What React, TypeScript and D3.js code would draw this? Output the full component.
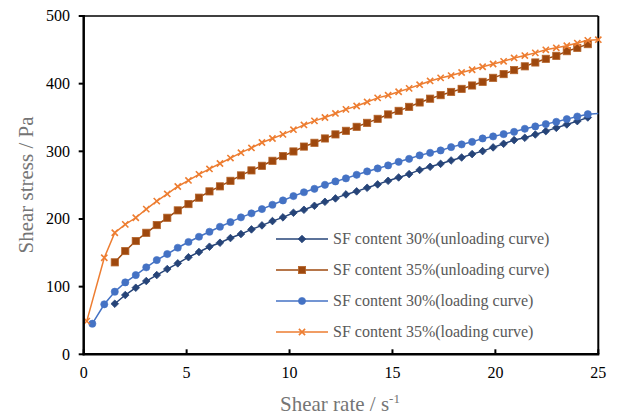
import React from "react";
import * as d3 from "d3";

const rate = [0.15, 0.42, 1.00, 1.51, 2.02, 2.53, 3.04, 3.55, 4.06, 4.57, 5.09, 5.60, 6.11, 6.62, 7.13, 7.64, 8.15, 8.66, 9.17, 9.68, 10.19, 10.70, 11.21, 11.72, 12.23, 12.74, 13.26, 13.77, 14.28, 14.79, 15.30, 15.81, 16.32, 16.83, 17.34, 17.85, 18.36, 18.87, 19.38, 19.89, 20.40, 20.91, 21.43, 21.94, 22.45, 22.96, 23.47, 23.98, 24.49, 25.00];

const unload30: (number | null)[] = [null, null, null, 74.7, 87.6, 98.4, 108.3, 117.1, 126, 134.4, 143.5, 151.2, 159, 164.9, 171.8, 177.7, 184.6, 190.5, 196.9, 202.4, 209.2, 213.6, 219.5, 225.4, 230.4, 236.3, 240.8, 246.1, 251.1, 256.4, 261.4, 266.3, 272.5, 277.1, 281.5, 286.5, 290.9, 295.9, 300.3, 305.8, 311.1, 316.6, 320, 324.9, 329.8, 334.7, 339.7, 344.6, 350, null];

const unload35: (number | null)[] = [null, null, null, 135.9, 152.6, 167.4, 179.6, 191, 201.8, 212.7, 222, 231.5, 240.8, 248.2, 256.4, 264.4, 271.8, 278.6, 286, 292.9, 299.8, 307, 312.6, 319, 325, 330.3, 336.2, 342.1, 348, 354.5, 359.8, 365.7, 372.2, 377.8, 383, 387.8, 392.3, 397.3, 402.7, 408.6, 414.1, 420, 425.6, 431.3, 436.7, 441.1, 448, 452.9, 458.4, null];

const load30: (number | null)[] = [null, 45.2, 73.9, 92.5, 106.3, 117.1, 128.5, 139.3, 148.2, 157.5, 166, 173.7, 181.1, 188.5, 195.4, 202.4, 208.3, 214.6, 221, 227.4, 233.8, 239.5, 244.6, 250.5, 255.5, 260, 265.3, 270.3, 274.7, 279.2, 284.5, 288.9, 294, 297.8, 301.3, 306.2, 310.2, 314, 319, 322, 325.4, 328.8, 333.3, 336.8, 340.2, 343.6, 347.6, 351.5, 354.9, 356];

const load35: (number | null)[] = [49, null, 142.7, 179.6, 192, 201.8, 214.6, 226.4, 237, 248, 257, 266, 274, 282, 290, 298, 305, 313, 319, 325, 332, 339, 345, 350, 356, 362, 367, 373, 379, 383, 388, 393, 398.5, 404, 408.5, 412, 416.5, 420.5, 425, 429, 433, 438, 441.5, 445.5, 450, 453, 456, 460, 464, 465];

// last point of the 30% loading curve is drawn by the line only (no marker)
const load30LastWithoutMarker = true;

const xTicks = [0, 5, 10, 15, 20, 25];
const yTicks = [0, 100, 200, 300, 400, 500];

const legendLabels = [
  "SF content 30%(unloading curve)",
  "SF content 35%(unloading curve)",
  "SF content 30%(loading curve)",
  "SF content 35%(loading curve)",
];

type Kind = "diamond" | "square" | "circle" | "cross";

const series: { values: (number | null)[]; color: string; kind: Kind; label: string }[] = [
  { values: unload30, color: "#264478", kind: "diamond", label: legendLabels[0] },
  { values: unload35, color: "#9E480E", kind: "square", label: legendLabels[1] },
  { values: load30, color: "#4472C4", kind: "circle", label: legendLabels[2] },
  { values: load35, color: "#ED7D31", kind: "cross", label: legendLabels[3] },
];

const W = 618;
const H = 416;
const L = 83.7, R = 598.3, T = 16, B = 354.3;

function Marker({ kind, x, y, color }: { kind: Kind; x: number; y: number; color: string }) {
  if (kind === "diamond") {
    const s = 3.8;
    return <path d={`M${x},${y - s}L${x + s},${y}L${x},${y + s}L${x - s},${y}Z`} fill={color} stroke={color} strokeWidth={0.8} />;
  }
  if (kind === "square") {
    const s = 3.6;
    return <rect x={x - s} y={y - s} width={2 * s} height={2 * s} fill={color} stroke="#b5642a" strokeWidth={0.8} />;
  }
  if (kind === "circle") {
    return <circle cx={x} cy={y} r={3.6} fill={color} stroke={color} strokeWidth={0.6} />;
  }
  const s = 3.1;
  return (
    <path d={`M${x - s},${y - s}L${x + s},${y + s}M${x - s},${y + s}L${x + s},${y - s}`} stroke={color} strokeWidth={1.6} fill="none" />
  );
}

export default function App() {
  const x = d3.scaleLinear().domain([0, 25]).range([L, R]);
  const y = d3.scaleLinear().domain([0, 500]).range([B, T]);
  const line = d3
    .line<[number, number]>()
    .x((d) => x(d[0]))
    .y((d) => y(d[1]));

  const font = "'Liberation Serif', 'Times New Roman', serif";
  const legendY = [239, 270, 301, 332];

  return (
    <svg width={W} height={H} style={{ position: "absolute", left: 0, top: 0, background: "#fff" }} fontFamily={font}>
      <rect x={0} y={0} width={W} height={H} fill="#fff" />
      {/* frame */}
      <line x1={L} x2={R} y1={T} y2={T} stroke="#000" strokeWidth={1.5} />
      <line x1={R} x2={R} y1={T} y2={B} stroke="#000" strokeWidth={2} />
      {/* y ticks and labels */}
      {yTicks.map((t) => (
        <g key={"y" + t}>
          <line x1={L - 5} x2={L} y1={y(t)} y2={y(t)} stroke="#000" strokeWidth={2} />
          <text x={70} y={y(t)} dy="0.34em" textAnchor="end" fontSize={16} fill="#000">
            {t}
          </text>
        </g>
      ))}
      {/* x ticks and labels */}
      {xTicks.map((t) => (
        <g key={"x" + t}>
          <line x1={x(t)} x2={x(t)} y1={B} y2={B - 5} stroke="#000" strokeWidth={2} />
          <text x={x(t)} y={378} textAnchor="middle" fontSize={16} fill="#000">
            {t}
          </text>
        </g>
      ))}
      {/* series */}
      {series.map((s, si) => {
        const pts: [number, number][] = [];
        s.values.forEach((v, i) => {
          if (v !== null) pts.push([rate[i], v]);
        });
        const markerPts = s.kind === "circle" && load30LastWithoutMarker ? pts.slice(0, -1) : pts;
        return (
          <g key={"s" + si}>
            <path d={line(pts) || ""} fill="none" stroke={s.color} strokeWidth={1.5} />
            {markerPts.map((p, i) => (
              <Marker key={i} kind={s.kind} x={x(p[0])} y={y(p[1])} color={s.color} />
            ))}
          </g>
        );
      })}
      {/* axes */}
      <line x1={L} x2={L} y1={T - 1} y2={B + 1} stroke="#000" strokeWidth={2.5} />
      <line x1={L - 1} x2={R + 1} y1={B} y2={B} stroke="#000" strokeWidth={2.5} />
      {/* legend */}
      {series.map((s, i) => (
        <g key={"l" + i}>
          <line x1={276} x2={328} y1={legendY[i]} y2={legendY[i]} stroke={s.color} strokeWidth={1.5} />
          <Marker kind={s.kind} x={302} y={legendY[i]} color={s.color} />
          <text x={333} y={legendY[i]} dy="0.34em" fontSize={16} fill="#595959">
            {s.label}
          </text>
        </g>
      ))}
      {/* axis titles */}
      <text transform={`translate(33,185) rotate(-90)`} textAnchor="middle" fontSize={21} fill="#757575">
        Shear stress / Pa
      </text>
      <text x={340} y={411} textAnchor="middle" fontSize={21} fill="#757575">
        Shear rate / s<tspan dy={-8} fontSize={13}>-1</tspan>
      </text>
    </svg>
  );
}
